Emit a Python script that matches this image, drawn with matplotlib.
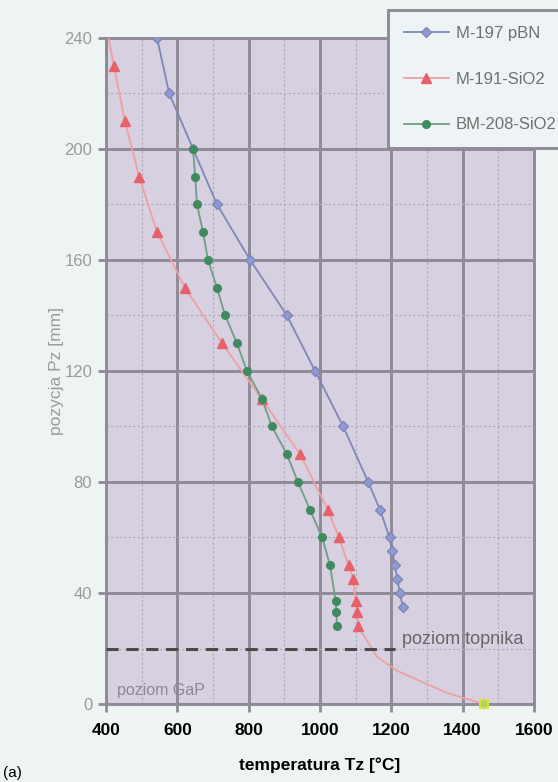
import numpy as np
import matplotlib
matplotlib.use("Agg")
import matplotlib.pyplot as plt
from matplotlib.ticker import MultipleLocator

plt.rcParams["font.family"] = ["Liberation Sans", "DejaVu Sans"]

# M-197 pBN
blue_T = [543, 577, 644, 711, 804, 907, 986, 1065, 1135, 1168, 1195, 1203, 1210, 1217, 1224, 1232]
blue_P = [240, 220, 200, 180, 160, 140, 120, 100, 80, 70, 60, 55, 50, 45, 40, 35]

# M-191-SiO2
red_T = [392, 422, 453, 493, 543, 621, 725, 836, 944, 1022, 1053, 1080, 1093, 1100, 1104, 1107]
red_P = [250, 230, 210, 190, 170, 150, 130, 110, 90, 70, 60, 50, 45, 37, 33, 28]

# BM-208-SiO2
green_T = [644, 650, 655, 672, 686, 711, 734, 767, 795, 837, 865, 907, 938, 972, 1006, 1028, 1044, 1046, 1047]
green_P = [200, 190, 180, 170, 160, 150, 140, 130, 120, 110, 100, 90, 80, 70, 60, 50, 37, 33, 28]

# continuation down to the melt
tail_T = [1107, 1160, 1216, 1356, 1460]
tail_P = [28, 17, 12, 4, 0]

melt_T = 1460
melt_P = 0
flux_level = 20

fig = plt.figure(figsize=(5.58, 7.82), dpi=100, facecolor="#eef3f4")
ax = fig.add_axes([0.190, 0.0997, 0.767, 0.852])
ax.set_facecolor("#d7d0e0")

ax.set_xlim(400, 1600)
ax.set_ylim(0, 240)
ax.xaxis.set_major_locator(MultipleLocator(200))
ax.xaxis.set_minor_locator(MultipleLocator(100))
ax.yaxis.set_major_locator(MultipleLocator(40))
ax.yaxis.set_minor_locator(MultipleLocator(20))

ax.grid(which="major", color="#8f8b96", lw=2.1)
ax.grid(which="minor", color="#aea6ba", lw=0.8, ls=(0, (2, 2)))
ax.set_axisbelow(True)
for s in ax.spines.values():
    s.set_color("#8f8b96")
    s.set_linewidth(2.1)

ax.plot(tail_T, tail_P, color="#eea0a4", lw=1.3, zorder=3)
ax.plot(blue_T, blue_P, color="#7f86b8", lw=1.3, marker="D", ms=5,
        mfc="#8f9ad2", mec="#7f86b8", label="M-197 pBN", zorder=4)
ax.plot(red_T, red_P, color="#f0a0a0", lw=1.3, marker="^", ms=7,
        mfc="#e8606a", mec="#e8606a", label="M-191-SiO2", zorder=4)
ax.plot(green_T, green_P, color="#6e9e86", lw=1.3, marker="o", ms=5.5,
        mfc="#3f8a5e", mec="#3f8a5e", label="BM-208-SiO2", zorder=5)
ax.plot([melt_T], [melt_P], marker="s", ms=6, mfc="#a8d860", mec="#dfe040",
        mew=1.5, ls="none", zorder=6, clip_on=False)

ax.plot([400, 1210], [flux_level, flux_level], color="#4a4a4a", lw=2.2,
        ls=(0, (4, 2.5)), zorder=5)
ax.text(1230, flux_level + 0.3, "poziom topnika", color="#666666", fontsize=13,
        va="bottom", ha="left", zorder=6)
ax.text(432, 2.0, "poziom GaP", color="#8a8896", fontsize=11.5, va="bottom", ha="left")

ax.tick_params(axis="x", which="major", length=6, width=2, color="#8f8b96",
               labelsize=12.5, labelcolor="black", pad=8)
ax.tick_params(axis="y", which="major", length=6, width=2, color="#8f8b96",
               labelsize=12, labelcolor="#9a9a9a", pad=4)
ax.tick_params(which="minor", length=0)
for lab in ax.get_xticklabels():
    lab.set_fontweight("bold")

ax.set_xlabel("temperatura Tz [°C]", fontsize=12.5, fontweight="bold", color="black", labelpad=14)
ax.set_ylabel("pozycja Pz [mm]", fontsize=12.5, color="#9a9a9a", labelpad=0)

leg = fig.legend(loc="upper left", bbox_to_anchor=(388 / 558, 1 - 10 / 782),
                 bbox_transform=fig.transFigure, fontsize=12, labelspacing=1.85,
                 handlelength=2.7, borderpad=0.95, handletextpad=0.4,
                 frameon=True, fancybox=False, borderaxespad=0)
leg.get_frame().set_facecolor("#eef3f5")
leg.get_frame().set_edgecolor("#8f8b96")
leg.get_frame().set_linewidth(2.1)
leg.get_frame().set_alpha(1)
for t in leg.get_texts():
    t.set_color("#707070")

fig.text(0.005, 0.003, "(a)", fontsize=11, color="black", ha="left", va="bottom")

fig.savefig("out.png", dpi=100, facecolor=fig.get_facecolor())
